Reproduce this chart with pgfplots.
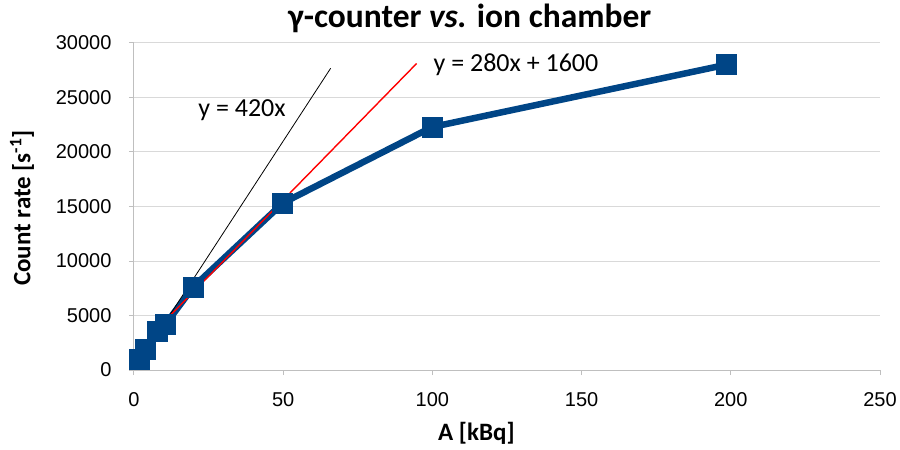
\documentclass[border=0pt]{standalone}
\usepackage{pgfplots}
\pgfplotsset{compat=1.18}
\usepackage{fontspec}
\setmainfont{Carlito}
\newfontfamily\arial{Liberation Sans}
\definecolor{ser}{HTML}{004586}
\definecolor{gridc}{HTML}{D9D9D9}
\definecolor{axc}{HTML}{BFBFBF}
\begin{document}
\begin{tikzpicture}
\useasboundingbox (-134pt,-80pt) rectangle (766pt,370pt);
\begin{axis}[
  at={(0,0)}, anchor=south west,
  scale only axis, width=746pt, height=327pt,
  xmin=0, xmax=250, ymin=0, ymax=30000,
  xtick={0,50,...,250}, ytick={0,5000,...,30000},
  axis lines*=left,
  axis line style={axc, line width=1pt},
  ymajorgrids, grid style={gridc, line width=1pt},
  tick style={axc, line width=1pt},
  tick align=outside, major tick length=5pt,
  /pgf/number format/assume math mode=true,
  /pgf/number format/1000 sep={},
  scaled y ticks=false,
  ticklabel style={font=\fontsize{20}{22}\selectfont\arial},
  yticklabel style={xshift=-14pt},
  xticklabel style={yshift=-14pt},
  xlabel={\textbf{A [kBq]}},
  ylabel={\textbf{Count rate [s\textsuperscript{-1}]}},
  label style={font=\fontsize{25}{28}\selectfont},
  xlabel style={at={(axis description cs:0.459,-0.193)}, anchor=center},
  ylabel style={at={(axis description cs:-0.150,0.495)}, anchor=center},
  title={\textbf{γ-counter \textit{vs.} ion chamber}},
  title style={font=\fontsize{33.5}{36}\selectfont, at={(axis description cs:0.45,1)}, anchor=center, yshift=19pt},
  clip=false,
]
\addplot[ser, line width=6.5pt, mark=square*, mark size=10pt, mark options={solid, fill=ser, line width=0pt}] coordinates {
(1.9,920) (4,1840) (7.9,3510) (10.4,4130) (19.8,7600) (49.9,15320) (99.9,22290) (198.7,28020)};
\addplot[black, line width=0.8pt] coordinates {(2,840) (65.9,27680)};
\addplot[red, line width=1.4pt] coordinates {(7.9,3812) (94.7,28116)};
\node[font=\fontsize{26}{28}\selectfont, inner sep=0pt] at (axis cs:36.2,23850) {y = 420x};
\node[font=\fontsize{26}{28}\selectfont, inner sep=0pt] at (axis cs:128,27980) {y = 280x + 1600};
\end{axis}
\end{tikzpicture}
\end{document}
